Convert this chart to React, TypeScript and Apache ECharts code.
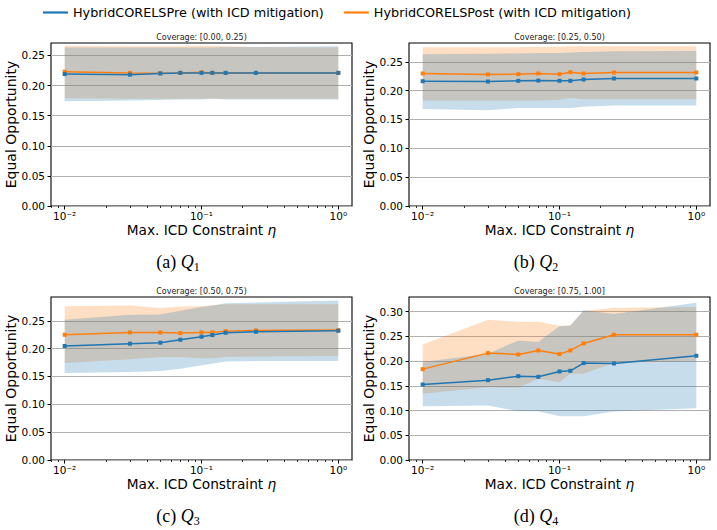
import { useEffect, useRef } from 'react';
import * as echarts from 'echarts';

// Shared x positions (max. ICD constraint eta)
const etas = [0.01, 0.03, 0.05, 0.07, 0.1, 0.12, 0.15, 0.25, 1.0];

// Coverage [0.00, 0.25)
const q1PreMean = [0.219, 0.218, 0.22, 0.221, 0.221, 0.221, 0.221, 0.221, 0.221];
const q1PreLow = [0.174, 0.175, 0.176, 0.177, 0.177, 0.178, 0.177, 0.177, 0.177];
const q1PreHigh = [0.263, 0.263, 0.263, 0.263, 0.263, 0.263, 0.264, 0.264, 0.265];
const q1PostMean = [0.223, 0.221, 0.2205, 0.221, 0.222, 0.221, 0.221, 0.221, 0.221];
const q1PostLow = [0.179, 0.178, 0.178, 0.178, 0.178, 0.178, 0.178, 0.178, 0.178];
const q1PostHigh = [0.266, 0.265, 0.265, 0.265, 0.266, 0.266, 0.265, 0.264, 0.263];

// Coverage [0.25, 0.50)
const q2PreMean = [0.2163, 0.2157, 0.2169, 0.2174, 0.217, 0.217, 0.2192, 0.221, 0.221];
const q2PreLow = [0.168, 0.166, 0.17, 0.17, 0.1698, 0.17, 0.172, 0.174, 0.174];
const q2PreHigh = [0.263, 0.264, 0.2645, 0.265, 0.265, 0.266, 0.267, 0.268, 0.2686];
const q2PostMean = [0.2297, 0.228, 0.2285, 0.2297, 0.2285, 0.232, 0.2297, 0.2314, 0.2314];
const q2PostLow = [0.183, 0.183, 0.183, 0.183, 0.184, 0.187, 0.185, 0.185, 0.185];
const q2PostHigh = [0.275, 0.275, 0.275, 0.276, 0.276, 0.277, 0.277, 0.277, 0.277];

// Coverage [0.50, 0.75)
const q3PreMean = [0.2048, 0.2089, 0.2107, 0.216, 0.2214, 0.2244, 0.2286, 0.2304, 0.2321];
const q3PreLow = [0.1565, 0.158, 0.16, 0.164, 0.17, 0.173, 0.177, 0.178, 0.178];
const q3PreHigh = [0.2518, 0.2607, 0.2613, 0.268, 0.275, 0.2774, 0.2815, 0.2827, 0.2863];
const q3PostMean = [0.225, 0.2292, 0.2292, 0.228, 0.2292, 0.2292, 0.2315, 0.2327, 0.2333];
const q3PostLow = [0.1744, 0.181, 0.185, 0.185, 0.183, 0.183, 0.185, 0.186, 0.187];
const q3PostHigh = [0.2762, 0.2774, 0.2732, 0.2756, 0.276, 0.278, 0.28, 0.28, 0.28];

// Coverage [0.75, 1.00]
const q4PreMean = [0.1527, 0.1615, 0.1696, 0.1682, 0.179, 0.1804, 0.196, 0.1953, 0.2108];
const q4PreLow = [0.1088, 0.1101, 0.0986, 0.0986, 0.0885, 0.0885, 0.0885, 0.098, 0.1047];
const q4PreHigh = [0.198, 0.2149, 0.2419, 0.2385, 0.2703, 0.2723, 0.3027, 0.2955, 0.3182];
const q4PostMean = [0.1838, 0.2162, 0.2135, 0.2216, 0.2142, 0.2216, 0.2358, 0.2534, 0.2534];
const q4PostLow = [0.1338, 0.1473, 0.1459, 0.1642, 0.1574, 0.1743, 0.1743, 0.196, 0.2];
const q4PostHigh = [0.2338, 0.2838, 0.2797, 0.2797, 0.2716, 0.2723, 0.3014, 0.308, 0.3095];

const coverageTitles = [
  'Coverage: [0.00, 0.25)',
  'Coverage: [0.25, 0.50)',
  'Coverage: [0.50, 0.75)',
  'Coverage: [0.75, 1.00]',
];
const captionTags = ['(a)', '(b)', '(c)', '(d)'];
const captionSubs = ['1', '2', '3', '4'];

const yTicksLow = [0, 0.05, 0.1, 0.15, 0.2, 0.25];
const yTicksHigh = [0, 0.05, 0.1, 0.15, 0.2, 0.25, 0.3];
const xMajorTicks = [0.01, 0.1, 1];
const xMinorTicks = [
  0.008, 0.009, 0.02, 0.03, 0.04, 0.05, 0.06, 0.07, 0.08, 0.09,
  0.2, 0.3, 0.4, 0.5, 0.6, 0.7, 0.8, 0.9,
];

const PRE = 'HybridCORELSPre (with ICD mitigation)';
const POST = 'HybridCORELSPost (with ICD mitigation)';
const BLUE = '#1f77b4';
const ORANGE = '#ff7f0e';
const BLUE_FILL = 'rgba(31,119,180,0.25)';
const ORANGE_FILL = 'rgba(255,127,14,0.25)';
const FONT = "'DejaVu Sans', sans-serif";
const SERIF = "'Liberation Serif', 'DejaVu Serif', serif";

const panels = [
  { pre: q1PreMean, preLo: q1PreLow, preHi: q1PreHigh, post: q1PostMean, postLo: q1PostLow, postHi: q1PostHigh, yMax: 0.2706, yTicks: yTicksLow },
  { pre: q2PreMean, preLo: q2PreLow, preHi: q2PreHigh, post: q2PostMean, postLo: q2PostLow, postHi: q2PostHigh, yMax: 0.2825, yTicks: yTicksLow },
  { pre: q3PreMean, preLo: q3PreLow, preHi: q3PreHigh, post: q3PostMean, postLo: q3PostLow, postHi: q3PostHigh, yMax: 0.2928, yTicks: yTicksLow },
  { pre: q4PreMean, preLo: q4PreLow, preHi: q4PreHigh, post: q4PostMean, postLo: q4PostLow, postHi: q4PostHigh, yMax: 0.3297, yTicks: yTicksHigh },
];

const GRID_LEFT = [51, 409];
const GRID_TOP = [43, 297];
const GRID_W = 301;
const GRID_H = 163;
const X_MIN = Math.pow(10, -2.1);
const X_MAX = Math.pow(10, 0.1);

const SUP: Record<string, string> = { '-': '\u207b', '0': '\u2070', '1': '\u00b9', '2': '\u00b2' };
const powLabel = (v: number) => {
  const e = Math.round(Math.log10(v));
  const s = String(e).split('').map((c) => SUP[c] ?? c).join('');
  return '10' + s;
};

// Shaded min/max band, drawn as one polygon through the axis scales
function bandSeries(k: number, lo: number[], hi: number[], fill: string) {
  return {
    type: 'custom',
    xAxisIndex: 2 * k,
    yAxisIndex: k,
    silent: true,
    clip: false,
    data: etas.map((x, i) => [x, lo[i], hi[i]]),
    encode: { x: 0, y: [1, 2] },
    renderItem: (params: any, api: any) => {
      if (params.dataIndex !== 0) return null;
      const pts: number[][] = [];
      for (let i = 0; i < etas.length; i++) pts.push(api.coord([etas[i], hi[i]]));
      for (let i = etas.length - 1; i >= 0; i--) pts.push(api.coord([etas[i], lo[i]]));
      return { type: 'polygon', shape: { points: pts }, style: { fill, stroke: null } };
    },
  };
}

function lineSeries(k: number, name: string, values: number[], color: string) {
  return {
    type: 'line',
    name,
    xAxisIndex: 2 * k,
    yAxisIndex: k,
    data: etas.map((x, i) => [x, values[i]]),
    symbol: 'rect',
    symbolSize: 4,
    showSymbol: true,
    lineStyle: { color, width: 1.5 },
    itemStyle: { color },
    emphasis: { disabled: true },
  };
}

function buildOption() {
  const grid: any[] = [];
  const xAxis: any[] = [];
  const yAxis: any[] = [];
  const series: any[] = [];
  const graphic: any[] = [];

  panels.forEach((p, k) => {
    const left = GRID_LEFT[k % 2];
    const top = GRID_TOP[Math.floor(k / 2)];
    grid.push({
      left,
      top,
      width: GRID_W,
      height: GRID_H,
      show: true,
      borderColor: '#000',
      borderWidth: 1.1,
      backgroundColor: 'transparent',
      containLabel: false,
      outerBoundsMode: 'none',
    });
    xAxis.push({
      type: 'log',
      logBase: 10,
      gridIndex: k,
      min: X_MIN,
      max: X_MAX,
      position: 'bottom',
      axisLine: { show: false },
      axisTick: { show: true, customValues: xMajorTicks, length: 3.5, lineStyle: { color: '#000', width: 1 } },
      axisLabel: {
        show: true,
        customValues: xMajorTicks,
        formatter: powLabel,
        fontSize: 10.5,
        fontFamily: FONT,
        color: '#000',
        margin: 4,
      },
      splitLine: { show: false },
      name: 'Max. ICD Constraint {eta|η}',
      nameLocation: 'middle',
      nameGap: 17,
      nameTextStyle: {
        fontSize: 13.7,
        fontFamily: FONT,
        color: '#000',
        rich: { eta: { fontSize: 13.7, fontFamily: FONT, fontStyle: 'italic', color: '#000' } },
      },
    });
    xAxis.push({
      type: 'log',
      logBase: 10,
      gridIndex: k,
      min: X_MIN,
      max: X_MAX,
      position: 'bottom',
      axisLine: { show: false },
      axisTick: { show: true, customValues: xMinorTicks, length: 2, lineStyle: { color: '#000', width: 0.8 } },
      axisLabel: { show: false },
      splitLine: { show: false },
    });
    yAxis.push({
      type: 'value',
      gridIndex: k,
      min: 0,
      max: p.yMax,
      interval: 0.05,
      axisLine: { show: false },
      axisTick: { show: true, customValues: p.yTicks, length: 3.5, lineStyle: { color: '#000', width: 1 } },
      axisLabel: {
        customValues: p.yTicks,
        formatter: (v: number) => v.toFixed(2),
        fontSize: 10.5,
        fontFamily: FONT,
        color: '#000',
        margin: 6,
      },
      splitLine: { show: true, lineStyle: { color: '#b0b0b0', width: 1 } },
      name: 'Equal Opportunity',
      nameLocation: 'middle',
      nameGap: 32,
      nameTextStyle: { fontSize: 14, fontFamily: FONT, color: '#000' },
    });

    series.push(bandSeries(k, p.postLo, p.postHi, ORANGE_FILL));
    series.push(bandSeries(k, p.preLo, p.preHi, BLUE_FILL));
    series.push(lineSeries(k, POST, p.post, ORANGE));
    series.push(lineSeries(k, PRE, p.pre, BLUE));

    graphic.push({
      type: 'text',
      x: left + GRID_W / 2,
      y: top - 6,
      style: {
        text: coverageTitles[k],
        fontSize: 8,
        fontFamily: FONT,
        fill: '#222',
        align: 'center',
        verticalAlign: 'middle',
        textAlign: 'center',
        textVerticalAlign: 'middle',
      },
    });
    graphic.push({
      type: 'text',
      x: left + 127,
      y: top + GRID_H + 56,
      style: {
        text: `{t|${captionTags[k]} }{q|Q}{s|${captionSubs[k]}}`,
        fill: '#000',
        align: 'center',
        verticalAlign: 'middle',
        textAlign: 'center',
        textVerticalAlign: 'middle',
        rich: {
          t: { fontFamily: SERIF, fontSize: 18, fill: '#000', lineHeight: 21 },
          q: { fontFamily: SERIF, fontSize: 18, fontStyle: 'italic', fill: '#000', lineHeight: 21 },
          s: { fontFamily: SERIF, fontSize: 12, fill: '#000', verticalAlign: 'bottom', lineHeight: 14 },
        },
      },
    });
  });

  return {
    animation: false,
    backgroundColor: '#fff',
    legend: {
      left: 38,
      top: 1,
      icon: 'rect',
      itemWidth: 25,
      itemHeight: 2.2,
      itemGap: 20,
      data: [PRE, POST],
      selectedMode: false,
      textStyle: { fontSize: 12.8, fontFamily: FONT, color: '#000' },
    },
    grid,
    xAxis,
    yAxis,
    series,
    graphic,
  };
}

export default function App() {
  const ref = useRef<HTMLDivElement>(null);
  useEffect(() => {
    if (!ref.current) return;
    const chart = echarts.init(ref.current, undefined, { renderer: 'svg' });
    chart.setOption(buildOption() as any);
    return () => chart.dispose();
  }, []);
  return (
    <div
      ref={ref}
      style={{ position: 'absolute', left: 0, top: 0, width: 717, height: 530, background: '#fff' }}
    />
  );
}
